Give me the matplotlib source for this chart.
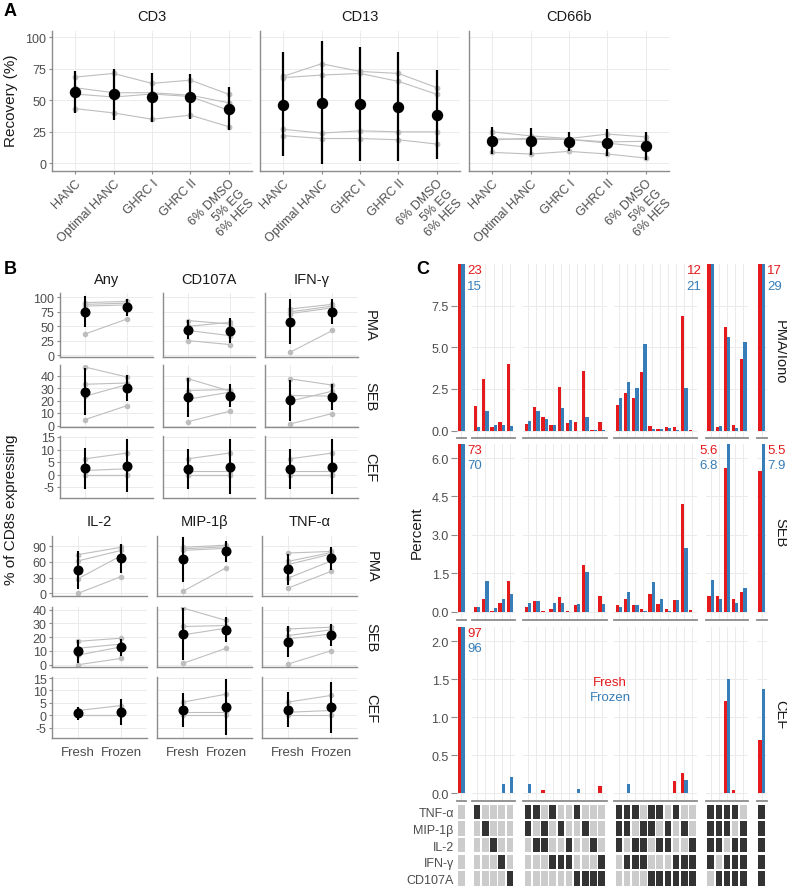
import matplotlib
matplotlib.use('Agg')
import matplotlib.pyplot as plt
import numpy as np

plt.rcParams['font.family'] = ['Liberation Sans', 'DejaVu Sans']
plt.rcParams['axes.unicode_minus'] = False

W, H = 787, 887

# ---------------- panel A: recovery per cryopreservation method
methods = ['HANC', 'Optimal HANC', 'GHRC I', 'GHRC II', '6% DMSO\n5% EG\n6% HES']
cell_types = ['CD3', 'CD13', 'CD66b']

cd3_donors = [[68.4, 71.3, 63.4, 66.0, 54.7],
              [60.0, 56.0, 56.0, 54.0, 48.0],
              [55.0, 52.6, 55.0, 53.0, 42.0],
              [43.4, 40.0, 35.0, 38.2, 29.0]]
cd3_mean = [56.7, 55.0, 52.6, 52.7, 43.4]
cd3_lo = [40.0, 34.5, 32.9, 35.0, 26.3]
cd3_hi = [73.2, 75.0, 71.8, 70.5, 60.8]

cd13_donors = [[69.0, 79.0, 72.9, 71.3, 60.0],
               [68.0, 70.0, 71.3, 65.0, 54.7],
               [27.0, 24.0, 25.8, 25.0, 25.0],
               [22.0, 19.7, 19.7, 18.7, 15.3]]
cd13_mean = [46.6, 47.9, 46.8, 44.7, 38.4]
cd13_lo = [5.5, -0.5, 1.6, 1.6, 3.4]
cd13_hi = [88.2, 96.8, 92.0, 88.2, 73.7]

cd66b_donors = [[25.0, 21.8, 19.7, 23.2, 21.0],
                [19.5, 19.0, 19.0, 17.0, 17.5],
                [18.5, 20.0, 19.0, 16.0, 13.0],
                [8.7, 7.4, 9.5, 7.4, 4.2]]
cd66b_mean = [17.9, 17.4, 16.8, 16.0, 13.9]
cd66b_lo = [7.4, 6.6, 10.0, 6.0, 2.9]
cd66b_hi = [29.0, 27.9, 24.5, 27.1, 25.0]

# ---------------- panel B: % of CD8s expressing, fresh vs frozen
b_markers = ['Any', 'CD107A', 'IFN-γ', 'IL-2', 'MIP-1β', 'TNF-α']
b_stims = ['PMA', 'SEB', 'CEF']
b_conditions = ['Fresh', 'Frozen']

# donor pairs (fresh, frozen)
pma_donors = {
    'Any': [(91, 93), (88, 90), (85, 87), (37, 63)],
    'CD107A': [(60, 54), (50, 57), (43, 34), (25.5, 18.6)],
    'IFN-γ': [(80, 88), (75, 85), (72, 82), (5.5, 43)],
    'IL-2': [(74, 88), (62, 82), (28, 72), (0, 32)],
    'MIP-1β': [(88, 92), (85, 89), (82, 86), (4, 49)],
    'TNF-α': [(77, 80), (61, 78), (55, 75), (29, 62), (10, 42)],
}
pma_mean = {'Any': (75.5, 83), 'CD107A': (44.5, 42.8), 'IFN-γ': (58.3, 75.5),
            'IL-2': (44.4, 67), 'MIP-1β': (65.2, 80.2), 'TNF-α': (45.7, 67)}
pma_err = {'Any': (27, 14.5), 'CD107A': (17, 22), 'IFN-γ': (38, 22),
           'IL-2': (37, 28), 'MIP-1β': (43, 20), 'TNF-α': (30, 22)}

seb_donors = {
    'Any': [(46.7, 38.7), (33, 34), (23.5, 32.8), (4.8, 16)],
    'CD107A': [(37.5, 27.5), (28, 28.8), (21, 26.7), (3, 11.5)],
    'IFN-γ': [(37.3, 32.3), (24, 23.5), (19.5, 27.5), (1.3, 9.6)],
    'IL-2': [(17, 19.3), (12, 15), (7, 13), (0, 4.6)],
    'MIP-1β': [(41.2, 32.2), (27.8, 28.5), (21.7, 26.6), (1, 12)],
    'TNF-α': [(26, 27.3), (21.2, 25.4), (18.8, 22.4), (0.5, 10.2)],
}
seb_mean = {'Any': (27.2, 30), 'CD107A': (22.7, 24), 'IFN-γ': (20.3, 22.7),
            'IL-2': (9.8, 12.7), 'MIP-1β': (22.4, 25.4), 'TNF-α': (16.8, 21.7)}
seb_err = {'Any': (18.6, 10.4), 'CD107A': (15.5, 9), 'IFN-γ': (16.5, 10.6),
           'IL-2': (8.5, 6.3), 'MIP-1β': (19, 9), 'TNF-α': (11, 8)}

cef_donors = {
    'Any': [(6.3, 8.6), (1.6, 2.3), (0, 0), (0, 0)],
    'CD107A': [(6.3, 8.6), (1.5, 1.5), (0, 0), (0, 0)],
    'IFN-γ': [(6.3, 8.6), (1.5, 1.5), (0, 0), (0, 0)],
    'IL-2': [(1.9, 3.9), (0, 0), (0, 0)],
    'MIP-1β': [(5.3, 8.5), (1.2, 1.2), (0, 0)],
    'TNF-α': [(5.3, 8), (1.2, 1.9), (0, 0)],
}
cef_mean = {'Any': (2.5, 3.6), 'CD107A': (2.3, 3.2), 'IFN-γ': (2.3, 3.2),
            'IL-2': (0.8, 1.2), 'MIP-1β': (2.2, 3.4), 'TNF-α': (2.2, 3.2)}
cef_err = {'Any': (8.1, 10.7), 'CD107A': (8.1, 11), 'IFN-γ': (8.1, 11),
           'IL-2': (2.6, 5.2), 'MIP-1β': (6.8, 11.3), 'TNF-α': (7, 10.3)}

# ---------------- panel C: Boolean combinations
c_stims = ['PMA/Iono', 'SEB', 'CEF']
c_markers = ['TNF-α', 'MIP-1β', 'IL-2', 'IFN-γ', 'CD107A']
c_group_sizes = [1, 5, 10, 10, 5, 1]
c_combos = ['00000',
            '10000', '01000', '00100', '00010', '00001',
            '11000', '10100', '01100', '10010', '01010',
            '00110', '10001', '01001', '00101', '00011',
            '11100', '11010', '10110', '01110', '11001',
            '10101', '01101', '10011', '01011', '00111',
            '11110', '11101', '11011', '10111', '01111',
            '11111']

pma_fresh = [23, 1.5, 3.1, 0.25, 0.5, 4.0,
             0.4, 1.4, 0.85, 0.35, 2.65, 0.45, 0.55, 3.6, 0.02, 0.55,
             1.55, 2.25, 1.95, 3.5, 0.3, 0.1, 0.25, 0.25, 6.9, 0.07,
             12, 0.25, 6.2, 0.35, 4.3, 17]
pma_frozen = [15, 0.25, 1.2, 0.35, 0.35, 0.3,
              0.6, 1.2, 0.7, 0.35, 1.35, 0.65, 0.0, 0.8, 0.03, 0.05,
              1.95, 2.95, 2.55, 5.2, 0.1, 0.1, 0.15, 0.05, 2.55, 0.0,
              21, 0.3, 5.6, 0.15, 5.35, 29]
seb_fresh = [73, 0.2, 0.5, 0.01, 0.35, 1.2,
             0.2, 0.4, 0.02, 0.1, 0.56, 0.01, 0.27, 1.83, 0.0, 0.63,
             0.27, 0.5, 0.26, 0.12, 0.7, 0.3, 0.1, 0.47, 4.21, 0.07,
             0.6, 0.6, 5.6, 0.48, 0.76, 5.5]
seb_frozen = [70, 0.2, 1.21, 0.14, 0.5, 0.69,
              0.35, 0.4, 0.0, 0.35, 0.35, 0.0, 0.29, 1.56, 0.0, 0.3,
              0.2, 0.76, 0.25, 0.04, 1.15, 0.48, 0.03, 0.46, 2.49, 0.0,
              1.25, 0.5, 6.8, 0.34, 0.91, 7.9]
cef_fresh = [97, 0, 0, 0, 0, 0,
             0, 0, 0.04, 0, 0, 0, 0, 0, 0, 0.09,
             0, 0, 0, 0, 0, 0, 0, 0.16, 0.27, 0,
             0, 0, 1.22, 0.05, 0, 0.7]
cef_frozen = [96, 0, 0, 0, 0.12, 0.21,
              0.12, 0, 0, 0, 0, 0, 0.06, 0, 0, 0,
              0, 0.12, 0, 0, 0, 0, 0, 0, 0.17, 0,
              0, 0, 1.5, 0, 0, 1.37]

RED = '#E41A1C'
BLUE = '#377EB8'
GRID = '#EBEBEB'
AXIS = '#8C8C8C'
TXT = '#4D4D4D'
DONOR = '#BEBEBE'

fig = plt.figure(figsize=(W / 100, H / 100), dpi=100)


def px_axes(l, t, r, b):
    return fig.add_axes([l / W, 1 - b / H, (r - l) / W, (b - t) / H])


def ftext(x, y, s, **kw):
    fig.text(x / W, 1 - y / H, s, **kw)


def base_style(ax, left=True):
    for s in ('top', 'right'):
        ax.spines[s].set_visible(False)
    ax.spines['left'].set_visible(left)
    for s in ('left', 'bottom'):
        ax.spines[s].set_color(AXIS)
        ax.spines[s].set_linewidth(1.0)
    ax.tick_params(color=AXIS, labelcolor=TXT, labelsize=9, length=2.5, width=0.8, pad=1.5)
    ax.grid(True, color=GRID, lw=0.7)
    ax.set_axisbelow(True)


# ---------------- A
ftext(4, 12, 'A', fontsize=13, fontweight='bold', va='center')
a_data = {'CD3': (cd3_donors, cd3_mean, cd3_lo, cd3_hi),
          'CD13': (cd13_donors, cd13_mean, cd13_lo, cd13_hi),
          'CD66b': (cd66b_donors, cd66b_mean, cd66b_lo, cd66b_hi)}
a_lefts = [52, 260, 469]
xs = np.arange(1, len(methods) + 1)
for i, ct in enumerate(cell_types):
    ax = px_axes(a_lefts[i], 31.7, a_lefts[i] + 200, 172.3)
    base_style(ax)
    donors, mean, lo, hi = a_data[ct]
    for d in donors:
        ax.plot(xs, d, color=DONOR, lw=0.8, marker='o', ms=3.2, zorder=2)
    ax.vlines(xs, lo, hi, color='black', lw=1.6, zorder=3)
    ax.plot(xs, mean, 'o', color='black', ms=7.2, zorder=4)
    ax.set_xlim(0.4, 5.6)
    ax.set_ylim(-6.3, 105.2)
    ax.set_yticks([0, 25, 50, 75, 100])
    ax.set_xticks(xs)
    ax.set_xticklabels(methods, rotation=45, ha='right', va='top',
                       rotation_mode='anchor', multialignment='right')
    if i > 0:
        ax.tick_params(axis='y', length=0, labelleft=False)
    ftext(a_lefts[i] + 100, 17, ct, ha='center', va='center', fontsize=10.5, color='#1A1A1A')
ftext(11, 101, 'Recovery (%)', rotation=90, ha='center', va='center', fontsize=11, color='#1A1A1A')

# ---------------- B
ftext(4, 270, 'B', fontsize=13, fontweight='bold', va='center')
b_data = {'PMA': (pma_donors, pma_mean, pma_err),
          'SEB': (seb_donors, seb_mean, seb_err),
          'CEF': (cef_donors, cef_mean, cef_err)}
blocks = [
    dict(markers=b_markers[:3], lefts=[60, 162.5, 265], width=92.8, title_y=280, strip_x=370,
         rows=[(294, 358), (365.5, 428), (436.5, 499)],
         ylims=[(-2.8, 107.5), (-1.2, 48.8), (-9.4, 15.6)],
         yticks=[[0, 25, 50, 75, 100], [0, 10, 20, 30, 40], [-5, 0, 5, 10, 15]], xlabels=False),
    dict(markers=b_markers[3:], lefts=[52.3, 157.3, 262.3], width=94.8, title_y=521.7, strip_x=371.7,
         rows=[(536.7, 596.7), (607.7, 667.7), (678.3, 739)],
         ylims=[(-4.6, 110.1), (-1.45, 42.2), (-9.2, 15.3)],
         yticks=[[0, 30, 60, 90], [0, 10, 20, 30, 40], [-5, 0, 5, 10, 15]], xlabels=True),
]
for blk in blocks:
    for c, mk in enumerate(blk['markers']):
        l = blk['lefts'][c]
        ftext(l + blk['width'] / 2, blk['title_y'], mk, ha='center', va='center',
              fontsize=10.5, color='#1A1A1A')
        for r, st in enumerate(b_stims):
            t, b = blk['rows'][r]
            ax = px_axes(l, t, l + blk['width'], b)
            base_style(ax)
            donors, mean, err = b_data[st]
            for f, z in donors[mk]:
                ax.plot([1, 2], [f, z], color=DONOR, lw=0.8, marker='o', ms=3, zorder=2)
            m = np.array(mean[mk])
            e = np.array(err[mk])
            ax.vlines([1, 2], m - e, m + e, color='black', lw=1.5, zorder=3)
            ax.plot([1, 2], m, 'o', color='black', ms=6.2, zorder=4)
            ax.set_xlim(0.4, 2.6)
            ax.set_ylim(*blk['ylims'][r])
            ax.set_yticks(blk['yticks'][r])
            ax.set_xticks([1, 2])
            ax.tick_params(axis='x', length=0)
            if blk['xlabels'] and r == 2:
                ax.set_xticklabels(b_conditions, fontsize=9.5)
                ax.tick_params(axis='x', pad=6)
            else:
                ax.tick_params(axis='x', labelbottom=False)
            if c > 0:
                ax.tick_params(axis='y', length=0, labelleft=False)
            if c == 2:
                ftext(blk['strip_x'], (t + b) / 2, st, rotation=-90, ha='center', va='center',
                      fontsize=10.5, color='#1A1A1A')
ftext(11, 510, '% of CD8s expressing', rotation=90, ha='center', va='center', fontsize=11,
      color='#1A1A1A')

# ---------------- C
ftext(416, 270, 'C', fontsize=13, fontweight='bold', va='center')
c_data = {'PMA/Iono': (pma_fresh, pma_frozen),
          'SEB': (seb_fresh, seb_frozen),
          'CEF': (cef_fresh, cef_frozen)}
c_lefts = [456.5, 472.3, 523.3, 614, 705.7, 756.7]
unit = 8.17
c_rows = [(265, 439), (445, 621), (627.7, 802.3)]
c_ylims = [(-0.44, 10.0), (-0.324, 6.55), (-0.105, 2.192)]
c_yticks = [[0, 2.5, 5, 7.5], [0, 1.5, 3, 4.5, 6], [0, 0.5, 1, 1.5, 2]]
n_groups = len(c_group_sizes)

for r, st in enumerate(c_stims):
    fresh, frozen = c_data[st]
    top, bot = c_rows[r]
    ylim = c_ylims[r]
    start = 0
    for g, n in enumerate(c_group_sizes):
        l = c_lefts[g]
        ax = px_axes(l, top, l + (n + 0.2) * unit, bot)
        base_style(ax, left=False)
        ax.spines['bottom'].set_linewidth(1.3)
        if g == 0:
            # keep the value labels of the first column above the next panel
            ax.set_zorder(2)
            ax.patch.set_visible(False)
        fr = fresh[start:start + n]
        fz = frozen[start:start + n]
        x = np.arange(1, n + 1)
        ax.bar(x - 0.2, fr, width=0.4, color=RED, lw=0, zorder=2)
        ax.bar(x + 0.2, fz, width=0.4, color=BLUE, lw=0, zorder=2)
        ax.set_xlim(0.4, n + 0.6)
        ax.set_ylim(*ylim)
        ax.set_xticks(x)
        ax.tick_params(axis='x', length=0, labelbottom=False)
        ax.set_yticks(c_yticks[r])
        if g == 0:
            ax.set_yticklabels(['%.1f' % v for v in c_yticks[r]])
            ax.tick_params(axis='y', length=4, pad=1.5)
        else:
            ax.tick_params(axis='y', length=0, labelleft=False)
        for j in range(n):
            if max(fr[j], fz[j]) > ylim[1]:
                if g in (0, n_groups - 1):
                    xp, dx, ha = j + 1 + 0.4, 2.5, 'left'
                else:
                    xp, dx, ha = j + 1 - 0.4, -6, 'right'
                for v, col, dy in ((fr[j], RED, -6), (fz[j], BLUE, -21.5)):
                    ax.annotate('%g' % v, xy=(xp, 1), xycoords=('data', 'axes fraction'),
                                xytext=(dx, dy), textcoords='offset pixels', ha=ha, va='center',
                                color=col, fontsize=9.5, annotation_clip=False)
        start += n
    ftext(780, (top + bot) / 2, st, rotation=-90, ha='center', va='center', fontsize=10.5,
          color='#1A1A1A')
ftext(417, 533, 'Percent', rotation=90, ha='center', va='center', fontsize=11, color='#1A1A1A')
ftext(610, 682.7, 'Fresh', ha='center', va='center', color=RED, fontsize=9.5)
ftext(610, 698.3, 'Frozen', ha='center', va='center', color=BLUE, fontsize=9.5)

# combination matrix under the bars
start = 0
for g, n in enumerate(c_group_sizes):
    l = c_lefts[g]
    ax = px_axes(l, 804.5, l + (n + 0.2) * unit, 887.8)
    combos = c_combos[start:start + n]
    x = np.arange(1, n + 1)
    for k in range(len(c_markers)):
        cols = ['#333333' if cb[k] == '1' else '#CCCCCC' for cb in combos]
        ax.bar(x, 0.86, bottom=k + 1 - 0.43, width=0.8, color=cols, lw=0)
    ax.set_xlim(0.4, n + 0.6)
    ax.set_ylim(len(c_markers) + 0.5, 0.5)
    for s in ax.spines.values():
        s.set_visible(False)
    ax.set_xticks([])
    if g == 0:
        ax.set_yticks(range(1, len(c_markers) + 1))
        ax.set_yticklabels(c_markers)
        ax.tick_params(axis='y', length=0, pad=2, labelsize=9, labelcolor=TXT)
    else:
        ax.set_yticks([])
    start += n

fig.savefig('out.png', dpi=100)
